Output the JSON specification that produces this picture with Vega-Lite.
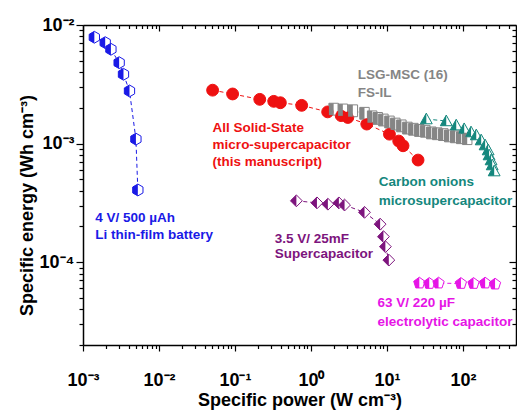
{
  "$schema": "https://vega.github.io/schema/vega-lite/v6.json",
  "width": 433,
  "height": 320,
  "autosize": "none",
  "padding": {"left": 83, "top": 25, "right": 1, "bottom": 65},
  "background": "white",
  "config": {"view": {"stroke": null}, "font": "Liberation Sans"},
  "datasets": {
    "pts": [
      {"series": "li", "power": 0.00141, "energy": 0.00788},
      {"series": "li", "power": 0.00196, "energy": 0.0071},
      {"series": "li", "power": 0.00233, "energy": 0.00624},
      {"series": "li", "power": 0.00299, "energy": 0.00481},
      {"series": "li", "power": 0.00341, "energy": 0.00384},
      {"series": "li", "power": 0.00409, "energy": 0.00278},
      {"series": "li", "power": 0.00497, "energy": 0.00109},
      {"series": "li", "power": 0.00527, "energy": 0.000406},
      {"series": "ss", "power": 0.0508, "energy": 0.00282},
      {"series": "ss", "power": 0.0931, "energy": 0.00262},
      {"series": "ss", "power": 0.212, "energy": 0.00236},
      {"series": "ss", "power": 0.324, "energy": 0.00227},
      {"series": "ss", "power": 0.396, "energy": 0.00221},
      {"series": "ss", "power": 0.755, "energy": 0.0021},
      {"series": "ss", "power": 1.66, "energy": 0.00185},
      {"series": "ss", "power": 2.5, "energy": 0.00172},
      {"series": "ss", "power": 3.06, "energy": 0.00166},
      {"series": "ss", "power": 5.43, "energy": 0.00146},
      {"series": "ss", "power": 10.8, "energy": 0.0012},
      {"series": "ss", "power": 14.3, "energy": 0.00105},
      {"series": "ss", "power": 16.3, "energy": 0.000958},
      {"series": "ss", "power": 25.7, "energy": 0.000726},
      {"series": "lsg", "power": 1.99, "energy": 0.00195},
      {"series": "lsg", "power": 2.63, "energy": 0.00192},
      {"series": "lsg", "power": 3.56, "energy": 0.00189},
      {"series": "lsg", "power": 5.07, "energy": 0.0018},
      {"series": "lsg", "power": 6.39, "energy": 0.00168},
      {"series": "lsg", "power": 7.57, "energy": 0.00163},
      {"series": "lsg", "power": 8.99, "energy": 0.00158},
      {"series": "lsg", "power": 10.8, "energy": 0.00152},
      {"series": "lsg", "power": 12.9, "energy": 0.00146},
      {"series": "lsg", "power": 15.5, "energy": 0.00141},
      {"series": "lsg", "power": 18.6, "energy": 0.00135},
      {"series": "lsg", "power": 22.3, "energy": 0.00132},
      {"series": "lsg", "power": 26.7, "energy": 0.00129},
      {"series": "lsg", "power": 32.0, "energy": 0.00127},
      {"series": "lsg", "power": 38.4, "energy": 0.00123},
      {"series": "lsg", "power": 46.0, "energy": 0.00121},
      {"series": "lsg", "power": 55.2, "energy": 0.00119},
      {"series": "lsg", "power": 66.1, "energy": 0.00116},
      {"series": "lsg", "power": 79.3, "energy": 0.00114},
      {"series": "lsg", "power": 95.1, "energy": 0.00112},
      {"series": "lsg", "power": 114, "energy": 0.0011},
      {"series": "co", "power": 33.0, "energy": 0.00161},
      {"series": "co", "power": 60.4, "energy": 0.00155},
      {"series": "co", "power": 81.7, "energy": 0.00143},
      {"series": "co", "power": 104, "energy": 0.00133},
      {"series": "co", "power": 128, "energy": 0.00125},
      {"series": "co", "power": 150, "energy": 0.00118},
      {"series": "co", "power": 174, "energy": 0.00107},
      {"series": "co", "power": 196, "energy": 0.000971},
      {"series": "co", "power": 215, "energy": 0.000881},
      {"series": "co", "power": 221, "energy": 0.0008},
      {"series": "co", "power": 235, "energy": 0.000726},
      {"series": "co", "power": 243, "energy": 0.000659},
      {"series": "co", "power": 258, "energy": 0.000586},
      {"series": "sc", "power": 0.643, "energy": 0.000329},
      {"series": "sc", "power": 1.2, "energy": 0.000316},
      {"series": "sc", "power": 1.67, "energy": 0.000308},
      {"series": "sc", "power": 2.33, "energy": 0.000316},
      {"series": "sc", "power": 2.77, "energy": 0.000303},
      {"series": "sc", "power": 5.07, "energy": 0.000263},
      {"series": "sc", "power": 8.14, "energy": 0.000209},
      {"series": "sc", "power": 9.0, "energy": 0.000164},
      {"series": "sc", "power": 9.55, "energy": 0.000135},
      {"series": "sc", "power": 10.6, "energy": 0.000104},
      {"series": "el", "power": 26.7, "energy": 0.0000665},
      {"series": "el", "power": 36.1, "energy": 0.000066},
      {"series": "el", "power": 47.8, "energy": 0.0000665},
      {"series": "el", "power": 94.2, "energy": 0.000066},
      {"series": "el", "power": 138, "energy": 0.000066},
      {"series": "el", "power": 196, "energy": 0.0000665},
      {"series": "el", "power": 265, "energy": 0.0000652}
    ],
    "labels": [
      {"series": "li", "power": 0.00145, "energy": 0.000235, "text": "4 V/ 500 µAh"},
      {"series": "li", "power": 0.00145, "energy": 0.000169, "text": "Li thin-film battery"},
      {"series": "ss", "power": 0.0508, "energy": 0.00136, "text": "All Solid-State"},
      {"series": "ss", "power": 0.0508, "energy": 0.000971, "text": "micro-supercapacitor"},
      {"series": "ss", "power": 0.0508, "energy": 0.000702, "text": "(this manuscript)"},
      {"series": "lsg", "power": 4.14, "energy": 0.00379, "text": "LSG-MSC (16)"},
      {"series": "lsg", "power": 4.14, "energy": 0.00265, "text": "FS-IL"},
      {"series": "co", "power": 7.8, "energy": 0.000476, "text": "Carbon onions"},
      {"series": "co", "power": 7.8, "energy": 0.000327, "text": "microsupercapacitor"},
      {"series": "sc", "power": 0.334, "energy": 0.000158, "text": "3.5 V/ 25mF"},
      {"series": "sc", "power": 0.334, "energy": 0.000117, "text": "Supercapacitor"},
      {"series": "el", "power": 7.5, "energy": 0.0000448, "text": "63 V/ 220 µF"},
      {"series": "el", "power": 7.5, "energy": 0.0000313, "text": "electrolytic capacitor"}
    ]
  },
  "resolve": {"axis": {"x": "independent", "y": "independent"}, "scale": {"shape": "independent"}},
  "layer": [
    {
      "data": {"name": "pts"},
      "mark": {"type": "line", "strokeWidth": 1, "strokeDash": [4, 3]},
      "encoding": {
        "x": {
          "field": "power", "type": "quantitative",
          "scale": {"type": "log", "domain": [0.001, 500], "nice": false},
          "axis": {
            "orient": "bottom",
            "values": [0.001,0.002,0.003,0.004,0.005,0.006,0.007,0.008,0.009,0.01,0.02,0.03,0.04,0.05,0.06,0.07,0.08,0.09,0.1,0.2,0.3,0.4,0.5,0.6,0.7,0.8,0.9,1,2,3,4,5,6,7,8,9,10,20,30,40,50,60,70,80,90,100,200,300,400],
            "labelExpr": "datum.value==0.001?'10⁻³':datum.value==0.01?'10⁻²':datum.value==0.1?'10⁻¹':datum.value==1?'10⁰':datum.value==10?'10¹':datum.value==100?'10²':''",
            "tickSize": {"condition": {"test": "datum.value==0.001||datum.value==0.01||datum.value==0.1||datum.value==1||datum.value==10||datum.value==100", "value": 6}, "value": 3.5},
            "tickColor": "black", "tickWidth": 1.2,
            "domainColor": "black", "domainWidth": 1.5, "grid": false,
            "labelFont": "Liberation Sans", "labelFontWeight": "bold", "labelFontSize": 18, "labelColor": "black",
            "labelBaseline": "alphabetic", "labelPadding": 34, "labelOverlap": false, "labelFlush": false, "labelBound": false,
            "title": "Specific power (W cm⁻³)", "titleFont": "Liberation Sans", "titleFontSize": 18, "titleFontWeight": "bold", "titleColor": "black",
            "titleY": 60, "titleBaseline": "alphabetic"
          }
        },
        "y": {
          "field": "energy", "type": "quantitative",
          "scale": {"type": "log", "domain": [0.00002, 0.01], "nice": false},
          "axis": {
            "orient": "left",
            "values": [0.00002,0.00003,0.00004,0.00005,0.00006,0.00007,0.00008,0.00009,0.0001,0.0002,0.0003,0.0004,0.0005,0.0006,0.0007,0.0008,0.0009,0.001,0.002,0.003,0.004,0.005,0.006,0.007,0.008,0.009,0.01],
            "labelExpr": "datum.value==0.01?'10⁻²':datum.value==0.001?'10⁻³':datum.value==0.0001?'10⁻⁴':''",
            "tickSize": {"condition": {"test": "datum.value==0.01||datum.value==0.001||datum.value==0.0001", "value": 7}, "value": 4},
            "tickColor": "black", "tickWidth": 1.2,
            "domainColor": "black", "domainWidth": 1.5, "grid": false,
            "labelFont": "Liberation Sans", "labelFontWeight": "bold", "labelFontSize": 18, "labelColor": "black",
            "labelBaseline": "middle", "labelPadding": 2, "labelOverlap": false, "labelFlush": false, "labelBound": false,
            "title": "Specific energy (Wh cm⁻³)", "titleFont": "Liberation Sans", "titleFontSize": 18, "titleFontWeight": "bold", "titleColor": "black",
            "titleX": -51, "titleY": 180, "titleBaseline": "alphabetic", "titleAngle": 270
          }
        },
        "color": {
          "field": "series", "type": "nominal", "legend": null,
          "scale": {"domain": ["li", "ss", "lsg", "co", "sc", "el"], "range": ["#1a1ae6", "#ee1111", "#858585", "#14877d", "#7d147d", "#e614e6"]}
        }
      }
    },
    {
      "data": {"name": "pts"},
      "mark": {"type": "point", "filled": true, "fill": "white", "strokeWidth": 1, "opacity": 1},
      "encoding": {
        "x": {
          "field": "power", "type": "quantitative",
          "axis": {
            "orient": "top",
            "values": [0.001,0.002,0.003,0.004,0.005,0.006,0.007,0.008,0.009,0.01,0.02,0.03,0.04,0.05,0.06,0.07,0.08,0.09,0.1,0.2,0.3,0.4,0.5,0.6,0.7,0.8,0.9,1,2,3,4,5,6,7,8,9,10,20,30,40,50,60,70,80,90,100,200,300,400],
            "labels": false, "title": null, "grid": false,
            "tickSize": {"condition": {"test": "datum.value==0.001||datum.value==0.01||datum.value==0.1||datum.value==1||datum.value==10||datum.value==100", "value": -6}, "value": -3.5},
            "tickColor": "black", "tickWidth": 1.2, "domainColor": "black", "domainWidth": 1.5
          }
        },
        "y": {
          "field": "energy", "type": "quantitative",
          "axis": {
            "orient": "right",
            "values": [0.00002,0.00003,0.00004,0.00005,0.00006,0.00007,0.00008,0.00009,0.0001,0.0002,0.0003,0.0004,0.0005,0.0006,0.0007,0.0008,0.0009,0.001,0.002,0.003,0.004,0.005,0.006,0.007,0.008,0.009,0.01],
            "labels": false, "title": null, "grid": false,
            "tickSize": {"condition": {"test": "datum.value==0.01||datum.value==0.001||datum.value==0.0001", "value": -7}, "value": -4},
            "tickColor": "black", "tickWidth": 1.2, "domainColor": "black", "domainWidth": 1.5
          }
        },
        "stroke": {
          "field": "series", "type": "nominal", "legend": null,
          "scale": {"domain": ["li", "ss", "lsg", "co", "sc", "el"], "range": ["#1a1ae6", "#ee1111", "#858585", "#14877d", "#7d147d", "#e614e6"]}
        },
        "shape": {
          "field": "series", "type": "nominal", "legend": null,
          "scale": {"domain": ["li", "ss", "lsg", "co", "sc", "el"], "range": [
            "M0,-1L0.87,-0.5L0.87,0.5L0,1L-0.87,0.5L-0.87,-0.5Z",
            "circle",
            "M-0.8,-1L0.8,-1L0.8,1L-0.8,1Z",
            "M0,-1L1,0.8L-1,0.8Z",
            "M0,-1L1,0L0,1L-1,0Z",
            "M0,-1L0.95,-0.31L0.59,0.81L-0.59,0.81L-0.95,-0.31Z"
          ]}
        },
        "size": {
          "field": "series", "type": "nominal", "legend": null,
          "scale": {"domain": ["li", "ss", "lsg", "co", "sc", "el"], "range": [140, 140, 72, 110, 120, 120]}
        }
      }
    },
    {
      "data": {"name": "pts"},
      "mark": {"type": "point", "filled": true, "strokeWidth": 0, "opacity": 1},
      "encoding": {
        "x": {"field": "power", "type": "quantitative", "axis": null},
        "y": {"field": "energy", "type": "quantitative", "axis": null},
        "color": {"field": "series", "type": "nominal", "legend": null},
        "shape": {
          "field": "series", "type": "nominal", "legend": null,
          "scale": {"domain": ["li", "ss", "lsg", "co", "sc", "el"], "range": [
            "M0,-1L0,1L-0.87,0.5L-0.87,-0.5Z",
            "circle",
            "M-0.8,-1L0,-1L0,1L-0.8,1Z",
            "M0,-1L0,0.8L-1,0.8Z",
            "M0,-1L0,1L-1,0Z",
            "M0,-1L0,0.81L-0.59,0.81L-0.95,-0.31Z"
          ]}
        },
        "size": {"field": "series", "type": "nominal", "legend": null}
      }
    },
    {
      "data": {"name": "labels"},
      "mark": {"type": "text", "align": "left", "baseline": "middle", "fontSize": 13.5, "fontWeight": "bold", "font": "Liberation Sans"},
      "encoding": {
        "x": {"field": "power", "type": "quantitative", "axis": null},
        "y": {"field": "energy", "type": "quantitative", "axis": null},
        "text": {"field": "text"},
        "color": {"field": "series", "type": "nominal", "legend": null}
      }
    }
  ]
}
